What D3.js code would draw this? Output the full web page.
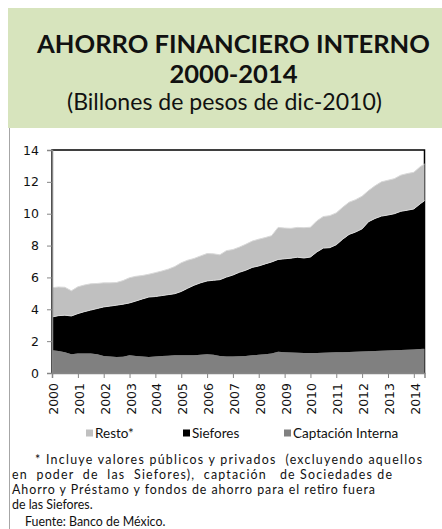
<!DOCTYPE html>
<html>
<head>
<meta charset="utf-8">
<script src="https://cdn.jsdelivr.net/npm/d3@7"></script>
<style>
  html, body { margin: 0; padding: 0; background: #fff; }
  svg { display: block; }
  .pre { white-space: pre; }
</style>
</head>
<body>
<svg id="chart" width="442" height="529"></svg>
<script>
// Quarterly observations (last one: June 2014), billions of pesos of Dec-2010
const fechas = [
  "2000-01","2000-04","2000-07","2000-10","2001-01","2001-04","2001-07","2001-10",
  "2002-01","2002-04","2002-07","2002-10","2003-01","2003-04","2003-07","2003-10",
  "2004-01","2004-04","2004-07","2004-10","2005-01","2005-04","2005-07","2005-10",
  "2006-01","2006-04","2006-07","2006-10","2007-01","2007-04","2007-07","2007-10",
  "2008-01","2008-04","2008-07","2008-10","2009-01","2009-04","2009-07","2009-10",
  "2010-01","2010-04","2010-07","2010-10","2011-01","2011-04","2011-07","2011-10",
  "2012-01","2012-04","2012-07","2012-10","2013-01","2013-04","2013-07","2013-10",
  "2014-01","2014-04","2014-06"
];
const captacion = [
  1.43,1.38,1.30,1.17,1.22,1.22,1.22,1.17,1.07,1.03,1.00,1.02,1.12,1.06,1.03,1.00,
  1.03,1.06,1.08,1.11,1.12,1.12,1.12,1.15,1.18,1.15,1.06,1.04,1.03,1.05,1.07,1.11,
  1.14,1.17,1.22,1.34,1.30,1.28,1.27,1.26,1.26,1.26,1.27,1.29,1.30,1.31,1.32,1.34,
  1.35,1.36,1.38,1.40,1.42,1.43,1.44,1.46,1.48,1.50,1.53
];
const siefores = [
  2.09,2.22,2.33,2.41,2.51,2.63,2.73,2.88,3.08,3.17,3.26,3.30,3.28,3.46,3.62,3.77,
  3.77,3.80,3.84,3.87,4.00,4.20,4.39,4.51,4.60,4.67,4.80,4.98,5.12,5.27,5.38,5.52,
  5.58,5.68,5.75,5.79,5.87,5.93,6.00,5.96,6.02,6.34,6.57,6.58,6.75,7.09,7.38,7.51,
  7.70,8.14,8.32,8.45,8.50,8.57,8.71,8.76,8.82,9.12,9.29
];
const resto = [
  1.83,1.80,1.75,1.58,1.68,1.67,1.65,1.57,1.51,1.46,1.42,1.48,1.58,1.55,1.47,1.43,
  1.50,1.54,1.60,1.70,1.80,1.76,1.68,1.69,1.72,1.66,1.56,1.66,1.60,1.58,1.63,1.65,
  1.68,1.65,1.65,2.01,1.93,1.87,1.87,1.90,1.87,1.95,1.98,2.01,2.00,2.00,2.02,2.03,
  2.05,1.95,2.05,2.15,2.18,2.20,2.27,2.30,2.30,2.33,2.30
];
const yTicks = [0, 2, 4, 6, 8, 10, 12, 14];
const years = d3.range(2000, 2015);

const series = [
  { key: "captacion", name: "Captación Interna", color: "#808080", values: captacion },
  { key: "siefores",  name: "Siefores",          color: "#000000", values: siefores },
  { key: "resto",     name: "Resto*",            color: "#c0c0c0", values: resto }
];
const legendOrder = ["resto", "siefores", "captacion"];

const parse = d3.timeParse("%Y-%m");
const rows = fechas.map((f, i) => {
  const r = { date: parse(f) };
  series.forEach(s => r[s.key] = s.values[i]);
  return r;
});

const svg = d3.select("#chart");

// Header band
svg.append("rect").attr("x", 8).attr("y", 8).attr("width", 434).attr("height", 120)
  .attr("fill", "#d7e4bd");
// Left frame line
svg.append("line").attr("x1", 9.5).attr("x2", 9.5).attr("y1", 128).attr("y2", 529)
  .attr("stroke", "#a6a6a6").attr("stroke-width", 1);

function fitWidth(sel, w) {
  const cur = sel.node().getComputedTextLength();
  const fs = parseFloat(sel.attr("font-size"));
  sel.attr("font-size", (fs * w / cur).toFixed(2));
}

const titleFont = "Lato, 'Open Sans', sans-serif";
const t1 = svg.append("text").attr("x", 233.5).attr("y", 53).attr("text-anchor", "middle")
  .attr("font-family", titleFont).attr("font-weight", 700).attr("font-size", 26)
  .attr("fill", "#111").text("AHORRO FINANCIERO INTERNO");
fitWidth(t1, 393);
svg.append("text").attr("x", 233.5).attr("y", 83).attr("text-anchor", "middle")
  .attr("font-family", titleFont).attr("font-weight", 700).attr("font-size", t1.attr("font-size"))
  .attr("fill", "#111").text("2000-2014");
const t3 = svg.append("text").attr("x", 224.5).attr("y", 110).attr("text-anchor", "middle")
  .attr("font-family", titleFont).attr("font-weight", 400).attr("font-size", 21)
  .attr("fill", "#111").text("(Billones de pesos de dic-2010)");
fitWidth(t3, 315);

// Plot area
const plot = { left: 52, right: 424.5, top: 150, bottom: 373 };
const x = d3.scaleTime()
  .domain([parse("2000-01"), parse("2014-06")])
  .range([plot.left, plot.right]);
const y = d3.scaleLinear().domain([0, 14]).range([plot.bottom, plot.top]);

svg.append("rect")
  .attr("x", plot.left).attr("y", plot.top)
  .attr("width", plot.right - plot.left).attr("height", plot.bottom - plot.top)
  .attr("fill", "none").attr("stroke", "#000").attr("stroke-width", 1.5);

const stacked = d3.stack().keys(series.map(s => s.key))(rows);

const area = d3.area()
  .x(d => x(d.data.date))
  .y0(d => y(d[0]))
  .y1(d => y(d[1]));
const topLine = d3.line()
  .x(d => x(d.data.date))
  .y(d => y(d[1]));

const g = svg.append("g");
g.selectAll("path.area").data(stacked).join("path")
  .attr("class", "area")
  .attr("d", area)
  .attr("fill", (d, i) => series[i].color);
g.selectAll("path.edge").data(stacked.filter((d, i) => i > 0)).join("path")
  .attr("class", "edge")
  .attr("d", topLine)
  .attr("fill", "none")
  .attr("stroke", "#d9d9d9")
  .attr("stroke-width", 1);

// Axes
const axisColor = "#868686";
const tickFont = "'DejaVu Sans', Verdana, sans-serif";

const yAxis = svg.append("g")
  .attr("transform", `translate(${plot.left},0)`)
  .call(d3.axisLeft(y).tickValues(yTicks).tickSize(5).tickPadding(8).tickFormat(d3.format("d")));
yAxis.select(".domain").attr("stroke", axisColor).attr("stroke-width", 1.5);
yAxis.selectAll(".tick line").attr("stroke", axisColor);
yAxis.selectAll(".tick text").attr("font-family", tickFont).attr("font-size", 12.5).attr("fill", "#111");

const xAxis = svg.append("g")
  .attr("transform", `translate(0,${plot.bottom})`)
  .call(d3.axisBottom(x)
    .tickValues(years.map(yr => new Date(yr, 0, 1)))
    .tickSize(5).tickFormat(d3.timeFormat("%Y")));
xAxis.select(".domain").attr("stroke", axisColor).attr("stroke-width", 1.5);
xAxis.selectAll(".tick line").attr("stroke", axisColor);
xAxis.selectAll(".tick text")
  .attr("font-family", tickFont).attr("font-size", 12.5).attr("fill", "#111")
  .attr("text-anchor", "end")
  .attr("transform", "translate(1,10) rotate(-90)")
  .attr("x", 0).attr("y", 0).attr("dy", "0.36em");

// Legend
const legendFont = "Lato, 'Open Sans', sans-serif";
const legendX = { resto: 86, siefores: 183, captacion: 284 };
const leg = svg.append("g");
legendOrder.forEach(k => {
  const s = series.find(v => v.key === k);
  leg.append("rect").attr("x", legendX[k]).attr("y", 429.5).attr("width", 7).attr("height", 7)
    .attr("fill", s.color);
  leg.append("text").attr("x", legendX[k] + 9).attr("y", 438)
    .attr("font-family", legendFont).attr("font-size", 13.5).attr("fill", "#111")
    .text(s.name);
});

// Footnote (w: justified line width, 0 = natural width)
const notes = [
  { x: 35, y: 464, w: 387, t: "* Incluye valores públicos y privados  (excluyendo aquellos" },
  { x: 12, y: 479, w: 380, t: "en  poder  de  las  Siefores),  captación   de Sociedades de" },
  { x: 12, y: 494, w: 363, t: "Ahorro y Préstamo y fondos de ahorro para el retiro fuera" },
  { x: 12, y: 509, w: 0,   t: "de las Siefores." },
  { x: 25, y: 526, w: 0,   t: "Fuente: Banco de México." }
];
svg.append("g").selectAll("text").data(notes).join("text")
  .attr("class", "pre")
  .attr("x", d => d.x).attr("y", d => d.y)
  .attr("font-family", legendFont).attr("font-size", 12.4).attr("fill", "#111")
  .attr("textLength", d => d.w > 0 ? d.w : null)
  .attr("lengthAdjust", d => d.w > 0 ? "spacing" : null)
  .text(d => d.t);
</script>
</body>
</html>
